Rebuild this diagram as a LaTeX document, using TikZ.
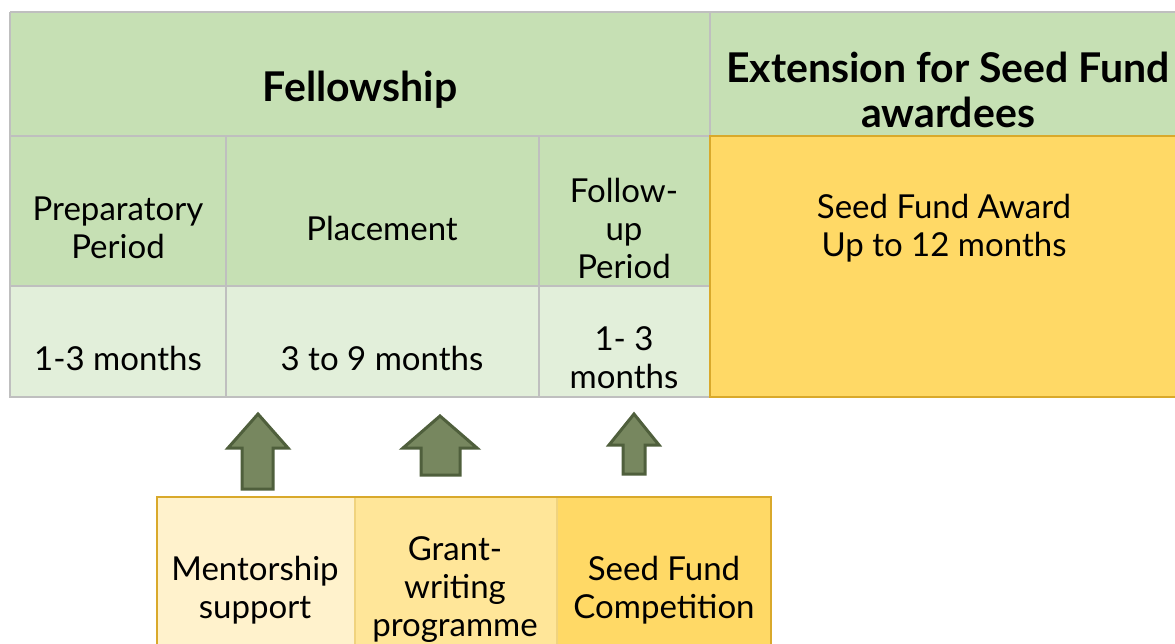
\documentclass[tikz,border=0pt]{standalone}
\usepackage{fontspec}
\setmainfont{Lato}
\definecolor{hdr}{HTML}{C6E0B4}
\definecolor{lightg}{HTML}{E2EFDA}
\definecolor{gridc}{HTML}{BFBFBF}
\definecolor{gold}{HTML}{FFD966}
\definecolor{goldline}{HTML}{D9A92B}
\definecolor{paleA}{HTML}{FFF2CC}
\definecolor{paleB}{HTML}{FFE699}
\definecolor{divline}{HTML}{F0D37E}
\definecolor{arrfill}{HTML}{77875F}
\definecolor{arrline}{HTML}{4F5F3C}
\tikzset{
  cell/.style={anchor=north west, inner sep=0pt, outer sep=0pt, draw=none},
  txt/.style={align=center, inner sep=0pt, font=\fontsize{33}{38}\selectfont},
  head/.style={align=center, inner sep=0pt, font=\fontsize{41}{45}\selectfont\bfseries},
  gridline/.style={draw=gridc, line width=2.5pt},
  blockarrow/.style={fill=arrfill, draw=arrline, line width=3pt, line join=miter},
}
\begin{document}
\begin{tikzpicture}[x=1pt,y=-1pt]
\useasboundingbox (0,0) rectangle (1175,644);
\clip (0,0) rectangle (1175,644);
% cells
\node[cell, fill=hdr, minimum width=700pt, minimum height=124pt] (fellowcell) at (10,12) {};
\node[cell, fill=hdr, minimum width=480pt, minimum height=124pt] (extcell) at (710,12) {};
\node[cell, fill=hdr, minimum width=700pt, minimum height=150pt] (periodrow) at (10,136) {};
\node[cell, fill=lightg, minimum width=700pt, minimum height=111pt] (monthrow) at (10,286) {};
% grid
\draw[gridline] (10,12) -- (1190,12);
\draw[gridline] (10,12) -- (10,397) -- (710,397);
\draw[gridline] (710,12) -- (710,136);
\draw[gridline] (10,136) -- (1190,136);
\draw[gridline] (10,286) -- (710,286);
\draw[gridline] (226,136) -- (226,397);
\draw[gridline] (539,136) -- (539,397);
% seed fund award box
\node[cell, fill=gold, draw=goldline, line width=2.5pt, minimum width=480pt, minimum height=261pt] (awardcell) at (710,136) {};
% texts
\node[head] (fellowship) at (360,90) {Fellowship};
\node[head] (extension) at (948,90) {Extension for Seed Fund\\awardees};
\node[txt] (prep) at (118,228) {Preparatory\\Period};
\node[txt] (placement) at (382,228) {Placement};
\node[txt] (follow) at (624,228) {Follow-\\up\\Period};
\node[txt] (m1) at (118,358) {1-3 months};
\node[txt] (m2) at (382,358) {3 to 9 months};
\node[txt] (m3) at (624,358) {1- 3\\months};
\node[txt] (award) at (944,228) {Seed Fund Award\\Up to 12 months};
% bottom boxes
\node[cell, fill=paleA, minimum width=198pt, minimum height=170pt] (mentorbox) at (157,497) {};
\node[cell, fill=paleB, minimum width=202pt, minimum height=170pt] (grantbox) at (355,497) {};
\node[cell, fill=gold, minimum width=214pt, minimum height=170pt] (compbox) at (557,497) {};
\draw[divline, line width=2pt] (355,497) -- (355,660);
\draw[divline, line width=2pt] (557,497) -- (557,660);
\draw[goldline, line width=2.5pt] (157,660) -- (157,497) -- (771,497) -- (771,660);
\node[txt] (mentor) at (255,590) {Mentorship\\support};
\node[txt] (grant) at (455,590) {Grant-\\writing\\programme};
\node[txt] (comp) at (664,590) {Seed Fund\\Competition};
% block arrows
\draw[blockarrow] (258,414) -- (288,448) -- (273,448) -- (273,489) -- (242,489) -- (242,448) -- (228,448) -- cycle;
\draw[blockarrow] (440,416) -- (477,448) -- (460,448) -- (460,475) -- (421,475) -- (421,448) -- (403,448) -- cycle;
\draw[blockarrow] (634,414) -- (659,445) -- (645,445) -- (645,474) -- (623,474) -- (623,445) -- (609,445) -- cycle;
\end{tikzpicture}
\end{document}
